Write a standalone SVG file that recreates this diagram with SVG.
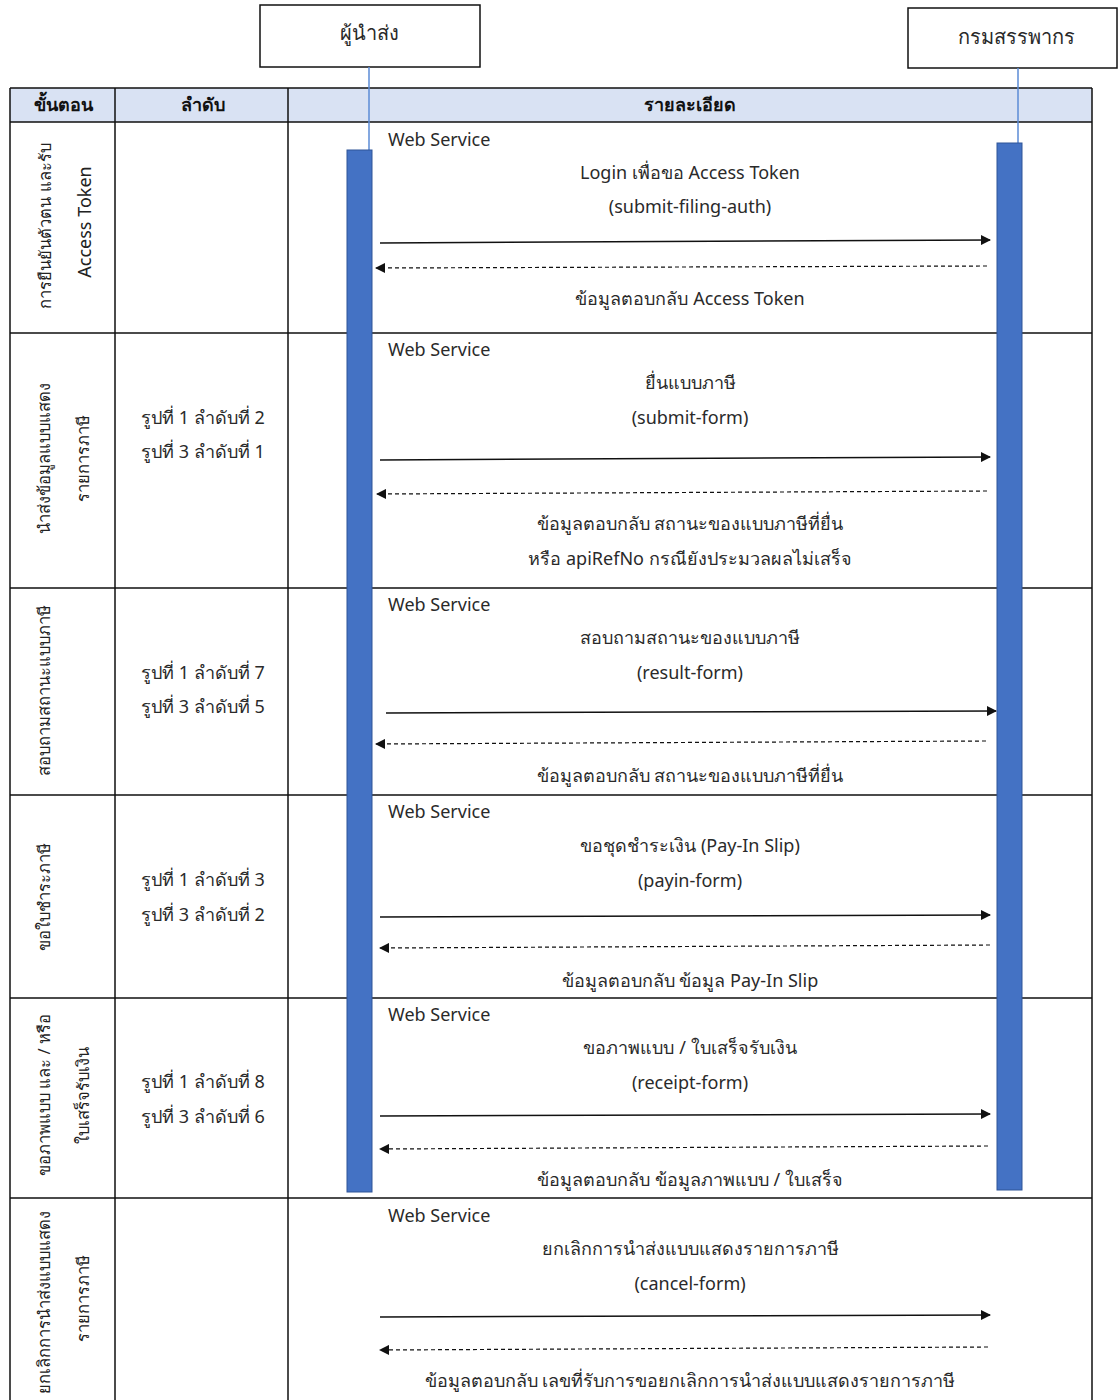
<svg xmlns="http://www.w3.org/2000/svg" width="1118" height="1400" viewBox="0 0 1118 1400">
<style>
.t{font-family:"Noto Sans","DejaVu Sans",sans-serif;font-size:18px;fill:#2a2a2a}
.c{text-anchor:middle}
.b{font-size:20px}
.h{font-family:"Noto Sans","DejaVu Sans",sans-serif;font-size:18px;font-weight:bold;fill:#111;text-anchor:middle}
.r{font-family:"Noto Sans","DejaVu Sans",sans-serif;font-size:16.5px;fill:#222;text-anchor:middle;dominant-baseline:central}
.grid{stroke:#111;stroke-width:1.5;fill:none}
.box{fill:#fff;stroke:#111;stroke-width:1.5}
.bar{fill:#4472C4;stroke:#2F5597;stroke-width:1}
.life{stroke:#5B8BD6;stroke-width:1.5}
.req{stroke:#111;stroke-width:1.5;fill:none;marker-end:url(#ah)}
.res{stroke:#111;stroke-width:1.2;stroke-dasharray:4 3;fill:none;marker-end:url(#ah)}
</style>
<defs>
<marker id="ah" viewBox="0 0 10 10" refX="9" refY="5" markerWidth="12" markerHeight="10" markerUnits="userSpaceOnUse" orient="auto">
<path d="M0,0 L10,5 L0,10 z" fill="#111"/>
</marker>
</defs>
<rect width="1118" height="1400" fill="#fff"/>
<g id="table">
<rect x="10" y="88" width="1082" height="34" fill="#D9E2F3"/>
<path class="grid" d="M10,88 H1092 M10,122 H1092 M10,333 H1092 M10,588 H1092 M10,795 H1092 M10,998 H1092 M10,1198 H1092 M10,88 V1400 M115,88 V1400 M288,88 V1400 M1092,88 V1400"/>
<text class="h" x="63" y="111">ขั้นตอน</text>
<text class="h" x="203" y="111">ลำดับ</text>
<text class="h" x="690" y="111">รายละเอียด</text>
</g>
<g id="steps">
<text class="r" transform="rotate(-90 44 226)" x="44" y="226">การยืนยันตัวตน และรับ</text>
<text class="r" transform="rotate(-90 84 222)" x="84" y="222" style="font-size:18px">Access Token</text>
<text class="r" transform="rotate(-90 43 458)" x="43" y="458">นำส่งข้อมูลแบบแสดง</text>
<text class="r" transform="rotate(-90 82 458)" x="82" y="458">รายการภาษี</text>
<text class="r" transform="rotate(-90 43 690)" x="43" y="690">สอบถามสถานะแบบภาษี</text>
<text class="r" transform="rotate(-90 43 897)" x="43" y="897">ขอใบชำระภาษี</text>
<text class="r" transform="rotate(-90 43 1095)" x="43" y="1095">ขอภาพแบบ และ / หรือ</text>
<text class="r" transform="rotate(-90 82 1095)" x="82" y="1095">ใบเสร็จรับเงิน</text>
<text class="r" transform="rotate(-90 43 1302)" x="43" y="1302">ยกเลิกการนำส่งแบบแสดง</text>
<text class="r" transform="rotate(-90 82 1298)" x="82" y="1298">รายการภาษี</text>
</g>
<g id="order">
<text class="t c" x="203" y="424">รูปที่ 1 ลำดับที่ 2</text>
<text class="t c" x="203" y="458">รูปที่ 3 ลำดับที่ 1</text>
<text class="t c" x="203" y="679">รูปที่ 1 ลำดับที่ 7</text>
<text class="t c" x="203" y="713">รูปที่ 3 ลำดับที่ 5</text>
<text class="t c" x="203" y="886">รูปที่ 1 ลำดับที่ 3</text>
<text class="t c" x="203" y="921">รูปที่ 3 ลำดับที่ 2</text>
<text class="t c" x="203" y="1088">รูปที่ 1 ลำดับที่ 8</text>
<text class="t c" x="203" y="1123">รูปที่ 3 ลำดับที่ 6</text>
</g>
<g id="sender">
<rect class="box" x="260" y="5" width="220" height="62"/>
<text class="t c b" x="369" y="40">ผู้นำส่ง</text>
<line class="life" x1="369" y1="67" x2="369" y2="150"/>
<rect class="bar" x="347" y="150" width="25" height="1042"/>
</g>
<g id="rd">
<rect class="box" x="908" y="8" width="209" height="60"/>
<text class="t c b" x="1016" y="44">กรมสรรพากร</text>
<line class="life" x1="1018" y1="68" x2="1018" y2="143"/>
<rect class="bar" x="997" y="143" width="25" height="1047"/>
</g>
<g id="connectors">
<path class="req" d="M380,243 L990,240"/>
<path class="res" d="M987,266 L376,268"/>
<path class="req" d="M380,460 L990,457"/>
<path class="res" d="M987,491 L377,494"/>
<path class="req" d="M386,713 L996,711"/>
<path class="res" d="M986,741 L376,744"/>
<path class="req" d="M380,917 L990,915"/>
<path class="res" d="M990,945 L380,948"/>
<path class="req" d="M380,1116 L990,1114"/>
<path class="res" d="M988,1146 L380,1149"/>
<path class="req" d="M380,1317 L990,1315"/>
<path class="res" d="M988,1347 L380,1350"/>
</g>
<g id="labels">
<text class="t" x="388" y="146">Web Service</text>
<text class="t c" x="690" y="179">Login เพื่อขอ Access Token</text>
<text class="t c" x="690" y="213">(submit-filing-auth)</text>
<text class="t c" x="690" y="305">ข้อมูลตอบกลับ Access Token</text>
<text class="t" x="388" y="356">Web Service</text>
<text class="t c" x="690" y="389">ยื่นแบบภาษี</text>
<text class="t c" x="690" y="424">(submit-form)</text>
<text class="t c" x="690" y="530">ข้อมูลตอบกลับ สถานะของแบบภาษีที่ยื่น</text>
<text class="t c" x="690" y="565">หรือ apiRefNo กรณียังประมวลผลไม่เสร็จ</text>
<text class="t" x="388" y="611">Web Service</text>
<text class="t c" x="690" y="644">สอบถามสถานะของแบบภาษี</text>
<text class="t c" x="690" y="679">(result-form)</text>
<text class="t c" x="690" y="782">ข้อมูลตอบกลับ สถานะของแบบภาษีที่ยื่น</text>
<text class="t" x="388" y="818">Web Service</text>
<text class="t c" x="690" y="852">ขอชุดชำระเงิน (Pay-In Slip)</text>
<text class="t c" x="690" y="887">(payin-form)</text>
<text class="t c" x="690" y="987">ข้อมูลตอบกลับ ข้อมูล Pay-In Slip</text>
<text class="t" x="388" y="1021">Web Service</text>
<text class="t c" x="690" y="1054">ขอภาพแบบ / ใบเสร็จรับเงิน</text>
<text class="t c" x="690" y="1089">(receipt-form)</text>
<text class="t c" x="690" y="1186">ข้อมูลตอบกลับ ข้อมูลภาพแบบ / ใบเสร็จ</text>
<text class="t" x="388" y="1222">Web Service</text>
<text class="t c" x="690" y="1255">ยกเลิกการนำส่งแบบแสดงรายการภาษี</text>
<text class="t c" x="690" y="1290">(cancel-form)</text>
<text class="t c" x="690" y="1387">ข้อมูลตอบกลับ เลขที่รับการขอยกเลิกการนำส่งแบบแสดงรายการภาษี</text>
</g>
</svg>
